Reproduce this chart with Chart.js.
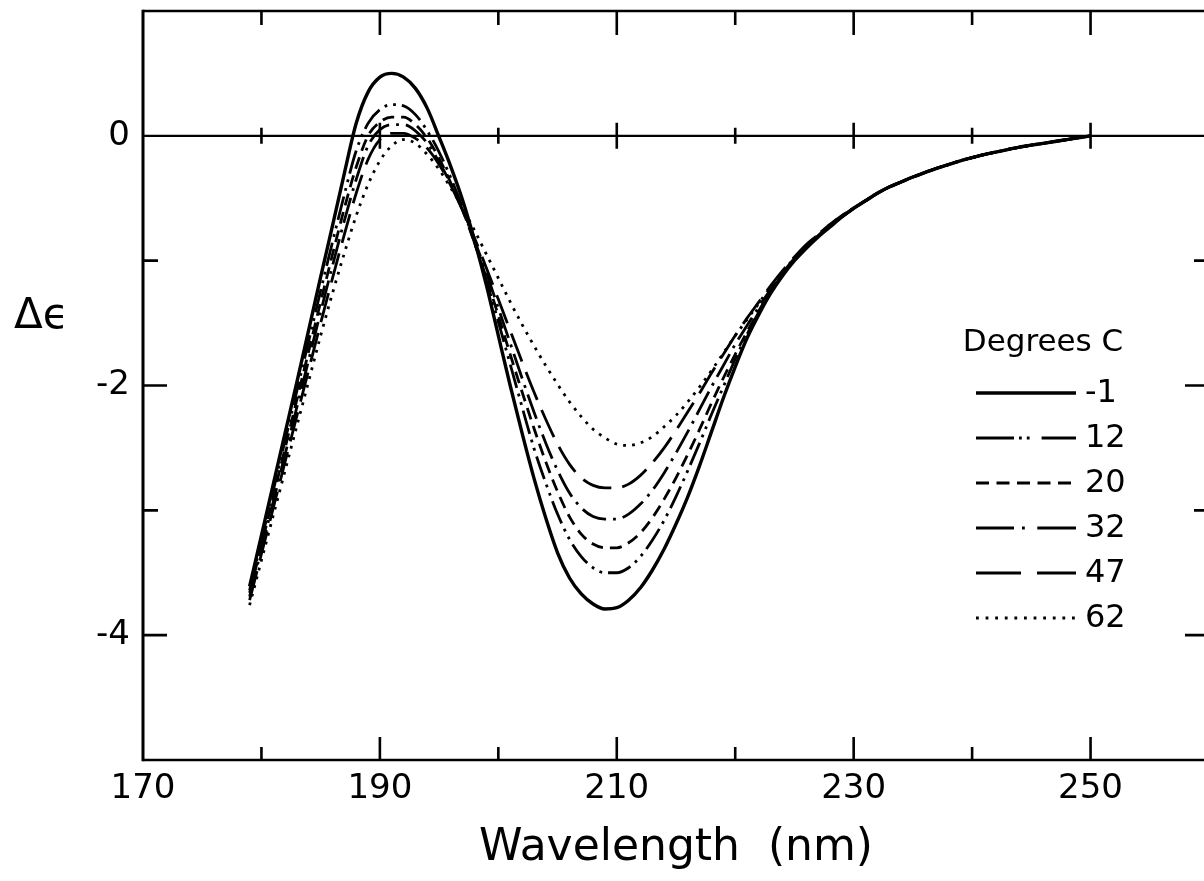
<!DOCTYPE html>
<html>
<head>
<meta charset="utf-8">
<title>CD spectra vs temperature</title>
<script src="https://cdn.jsdelivr.net/npm/chart.js@4.4.1/dist/chart.umd.min.js"></script>
<style>
  html, body { margin: 0; padding: 0; background: #fff; overflow: hidden; }
  #wrap { width: 1204px; height: 881px; overflow: hidden; position: relative; }
  canvas { display: block; }
</style>
</head>
<body>
<div id="wrap"><canvas id="cd" width="1215" height="881"></canvas></div>
<script>
// Wavelength grid (nm)
const wavelengths = [
  179, 180, 181, 182, 183, 184, 185, 186, 187, 188, 189, 190, 191, 192, 193, 194, 195, 196,
  197, 198, 199, 200, 201, 202, 203, 204, 205, 206, 207, 208, 209, 210, 211, 212, 213, 214,
  215, 216, 217, 218, 219, 220, 221, 222, 223, 224, 225, 226, 227, 228, 229, 230, 231, 232,
  233, 234, 235, 236, 237, 238, 239, 240, 241, 242, 243, 244, 245, 246, 247, 248, 249, 250
];

// Temperatures (degrees C) used as legend labels
const temperatures = ['-1', '12', '20', '32', '47', '62'];

// Delta-epsilon for each temperature
const deltaEpsMinus1 = [
  -3.61, -3.20, -2.79, -2.38, -1.97, -1.55, -1.13, -0.72, -0.30, 0.10, 0.35, 0.47, 0.50, 0.47, 0.38, 0.22, -0.01, -0.25,
  -0.52, -0.84, -1.20, -1.60, -2.00, -2.38, -2.74, -3.06, -3.34, -3.54, -3.67, -3.75, -3.79, -3.78, -3.72, -3.62, -3.48, -3.31,
  -3.11, -2.89, -2.64, -2.37, -2.10, -1.85, -1.62, -1.43, -1.26, -1.12, -1.00, -0.90, -0.81, -0.73, -0.65, -0.58, -0.52, -0.46,
  -0.41, -0.37, -0.33, -0.295, -0.26, -0.23, -0.20, -0.175, -0.15, -0.13, -0.11, -0.09, -0.075, -0.06, -0.045, -0.03, -0.015, 0.00
];
const deltaEps12 = [
  -3.64, -3.24, -2.84, -2.44, -2.04, -1.64, -1.24, -0.85, -0.47, -0.12, 0.10, 0.21, 0.25, 0.24, 0.17, 0.04, -0.13, -0.34,
  -0.58, -0.86, -1.16, -1.49, -1.83, -2.17, -2.50, -2.78, -3.03, -3.23, -3.37, -3.46, -3.50, -3.50, -3.46, -3.37, -3.24, -3.08,
  -2.89, -2.68, -2.46, -2.23, -2.01, -1.79, -1.59, -1.41, -1.25, -1.11, -0.99, -0.89, -0.80, -0.72, -0.65, -0.58, -0.52, -0.46,
  -0.41, -0.37, -0.33, -0.295, -0.26, -0.23, -0.20, -0.175, -0.15, -0.13, -0.11, -0.09, -0.075, -0.06, -0.045, -0.03, -0.015, 0.00
];
const deltaEps20 = [
  -3.66, -3.28, -2.89, -2.50, -2.11, -1.72, -1.33, -0.95, -0.58, -0.25, 0.00, 0.11, 0.15, 0.15, 0.09, -0.02, -0.18, -0.38,
  -0.60, -0.86, -1.14, -1.44, -1.75, -2.05, -2.34, -2.61, -2.85, -3.05, -3.19, -3.27, -3.30, -3.30, -3.26, -3.18, -3.06, -2.91,
  -2.74, -2.55, -2.35, -2.14, -1.94, -1.75, -1.57, -1.40, -1.25, -1.11, -0.99, -0.89, -0.80, -0.72, -0.65, -0.58, -0.52, -0.46,
  -0.41, -0.37, -0.33, -0.295, -0.26, -0.23, -0.20, -0.175, -0.15, -0.13, -0.11, -0.09, -0.075, -0.06, -0.045, -0.03, -0.015, 0.00
];
const deltaEps32 = [
  -3.69, -3.31, -2.93, -2.55, -2.17, -1.79, -1.41, -1.04, -0.68, -0.35, -0.08, 0.05, 0.09, 0.09, 0.04, -0.06, -0.21, -0.39,
  -0.60, -0.84, -1.10, -1.38, -1.66, -1.94, -2.21, -2.46, -2.68, -2.86, -2.98, -3.05, -3.07, -3.07, -3.03, -2.95, -2.84, -2.70,
  -2.54, -2.37, -2.19, -2.01, -1.84, -1.67, -1.52, -1.37, -1.23, -1.10, -0.98, -0.88, -0.80, -0.72, -0.65, -0.58, -0.52, -0.46,
  -0.41, -0.37, -0.33, -0.295, -0.26, -0.23, -0.20, -0.175, -0.15, -0.13, -0.11, -0.09, -0.075, -0.06, -0.045, -0.03, -0.015, 0.00
];
const deltaEps47 = [
  -3.72, -3.35, -2.98, -2.61, -2.24, -1.87, -1.50, -1.14, -0.79, -0.46, -0.19, -0.03, 0.02, 0.02, -0.02, -0.10, -0.23, -0.40,
  -0.60, -0.82, -1.06, -1.31, -1.56, -1.81, -2.05, -2.27, -2.47, -2.63, -2.74, -2.80, -2.82, -2.82, -2.79, -2.72, -2.62, -2.50,
  -2.36, -2.21, -2.06, -1.90, -1.75, -1.60, -1.46, -1.33, -1.20, -1.08, -0.97, -0.87, -0.79, -0.71, -0.64, -0.58, -0.52, -0.46,
  -0.41, -0.37, -0.33, -0.295, -0.26, -0.23, -0.20, -0.175, -0.15, -0.13, -0.11, -0.09, -0.075, -0.06, -0.045, -0.03, -0.015, 0.00
];
const deltaEps62 = [
  -3.76, -3.40, -3.04, -2.68, -2.32, -1.96, -1.60, -1.26, -0.94, -0.64, -0.39, -0.20, -0.08, -0.03, -0.06, -0.15, -0.27, -0.42,
  -0.58, -0.76, -0.95, -1.14, -1.33, -1.51, -1.68, -1.84, -1.99, -2.13, -2.25, -2.35, -2.42, -2.47, -2.48, -2.46, -2.41, -2.33,
  -2.24, -2.13, -2.01, -1.88, -1.74, -1.60, -1.47, -1.34, -1.21, -1.09, -0.98, -0.88, -0.79, -0.71, -0.64, -0.58, -0.52, -0.46,
  -0.41, -0.37, -0.33, -0.295, -0.26, -0.23, -0.20, -0.175, -0.15, -0.13, -0.11, -0.09, -0.075, -0.06, -0.045, -0.03, -0.015, 0.00
];

// Axis ticks: labelled values and all tick marks
const xTickLabels = [170, 190, 210, 230, 250];
const xTickMarks = [180, 190, 200, 210, 220, 230, 240, 250];
const yTickLabels = [0, -2, -4];
const yTickMarks = [-4, -3, -2, -1];

const seriesValues = [deltaEpsMinus1, deltaEps12, deltaEps20, deltaEps32, deltaEps47, deltaEps62];

// Line styles: solid, dash-dot-dot, short dash, dash-dot, long dash, dotted
const lineStyles = [
  { width: 3.4, dash: [],                         legendDash: [] },
  { width: 2.8, dash: [24, 6, 2.8, 6, 2.8, 6],    legendDash: [38, 5, 2.8, 5, 2.8, 12, 40] },
  { width: 2.8, dash: [12, 7],                    legendDash: [13, 7.5] },
  { width: 2.8, dash: [26, 7, 2.8, 7],            legendDash: [38, 8, 2.8, 12.5, 40] },
  { width: 2.8, dash: [30, 11],                   legendDash: [45, 16, 40] },
  { width: 2.8, dash: [2.8, 6.2],                 legendDash: [2.8, 6.8] }
];

const FONT = "'DejaVu Sans', 'Noto Sans', sans-serif";
const INK = '#000';

const datasets = seriesValues.map((vals, i) => ({
  label: temperatures[i],
  data: wavelengths.map((w, k) => ({ x: w, y: vals[k] })),
  borderColor: INK,
  borderWidth: lineStyles[i].width,
  borderDash: lineStyles[i].dash,
  legendDash: lineStyles[i].legendDash,
  borderCapStyle: 'butt',
  pointRadius: 0,
  fill: false,
  cubicInterpolationMode: 'monotone'
}));

// Frame, zero line, inward tick marks, legend and the y label
const chartFrame = {
  id: 'chartFrame',
  beforeDatasetsDraw(chart) {
    const { ctx, chartArea: a, scales: { x, y } } = chart;
    ctx.save();
    ctx.strokeStyle = INK;
    ctx.lineCap = 'butt';

    ctx.lineWidth = 3;
    ctx.beginPath();
    ctx.moveTo(a.left, a.top - 1.2);
    ctx.lineTo(a.left, a.bottom + 1.2);
    ctx.stroke();

    ctx.lineWidth = 2.5;
    ctx.beginPath();
    ctx.moveTo(a.left, a.top); ctx.lineTo(a.right, a.top);
    ctx.moveTo(a.left, a.bottom); ctx.lineTo(a.right, a.bottom);
    ctx.moveTo(a.right, a.top); ctx.lineTo(a.right, a.bottom);
    ctx.stroke();

    const y0 = y.getPixelForValue(0);
    ctx.lineWidth = 2.2;
    ctx.beginPath();
    ctx.moveTo(a.left, y0); ctx.lineTo(a.right, y0);
    ctx.stroke();

    ctx.lineWidth = 2.6;
    for (const v of xTickMarks) {
      const px = x.getPixelForValue(v);
      const major = xTickLabels.includes(v);
      ctx.beginPath();
      ctx.moveTo(px, a.bottom); ctx.lineTo(px, a.bottom - (major ? 23 : 13));
      ctx.moveTo(px, a.top); ctx.lineTo(px, a.top + (major ? 24 : 14));
      ctx.moveTo(px, y0 - (major ? 13 : 8)); ctx.lineTo(px, y0 + (major ? 13 : 8));
      ctx.stroke();
    }
    for (const v of yTickMarks) {
      const py = y.getPixelForValue(v);
      const len = yTickLabels.includes(v) ? 24 : 15;
      ctx.beginPath();
      ctx.moveTo(a.left, py); ctx.lineTo(a.left + len, py);
      ctx.moveTo(a.right, py); ctx.lineTo(a.right - len, py);
      ctx.stroke();
    }
    ctx.restore();
  },
  afterDraw(chart) {
    const { ctx } = chart;
    ctx.save();
    ctx.fillStyle = INK;
    ctx.strokeStyle = INK;

    // y-axis label
    ctx.font = `42px ${FONT}`;
    ctx.textAlign = 'left';
    ctx.textBaseline = 'alphabetic';
    ctx.fillText('Δϵ', 14, 328);

    // legend
    ctx.font = `31px ${FONT}`;
    ctx.textAlign = 'center';
    ctx.textBaseline = 'middle';
    ctx.fillText('Degrees C', 1043, 343);

    ctx.font = `32px ${FONT}`;
    ctx.textAlign = 'left';
    chart.data.datasets.forEach((ds, i) => {
      const rowY = 393 + i * 45;
      ctx.lineWidth = ds.borderWidth;
      ctx.lineCap = 'butt';
      ctx.setLineDash(ds.legendDash);
      ctx.beginPath();
      ctx.moveTo(976, rowY);
      ctx.lineTo(1076, rowY);
      ctx.stroke();
      ctx.setLineDash([]);
      ctx.fillText(ds.label, 1085, rowY + 1);
    });
    ctx.restore();
  }
};

new Chart(document.getElementById('cd'), {
  type: 'line',
  data: { datasets },
  options: {
    responsive: false,
    devicePixelRatio: 1,
    animation: false,
    layout: { padding: { top: 11, right: 6, left: 0, bottom: 0 } },
    plugins: { legend: { display: false }, tooltip: { enabled: false } },
    scales: {
      x: {
        type: 'linear',
        min: 170,
        max: 260,
        afterBuildTicks: (s) => { s.ticks = xTickLabels.map(v => ({ value: v })); },
        afterFit: (s) => { s.height = 121; s.paddingLeft = 0; s.paddingRight = 0; },
        grid: { display: false, drawTicks: false },
        border: { display: false },
        ticks: {
          autoSkip: false, maxRotation: 0, padding: 9, color: INK,
          font: { family: FONT, size: 34 }
        },
        title: {
          display: true, text: 'Wavelength  (nm)', color: INK,
          font: { family: FONT, size: 44 },
          padding: { top: 0, bottom: 6 }
        }
      },
      y: {
        type: 'linear',
        min: -5,
        max: 1,
        afterBuildTicks: (s) => { s.ticks = yTickLabels.map(v => ({ value: v })); },
        afterFit: (s) => { s.width = 143; s.paddingTop = 0; s.paddingBottom = 0; },
        grid: { display: false, drawTicks: false },
        border: { display: false },
        ticks: {
          padding: 13, color: INK,
          font: { family: FONT, size: 34 }
        }
      }
    }
  },
  plugins: [chartFrame]
});
</script>
</body>
</html>
